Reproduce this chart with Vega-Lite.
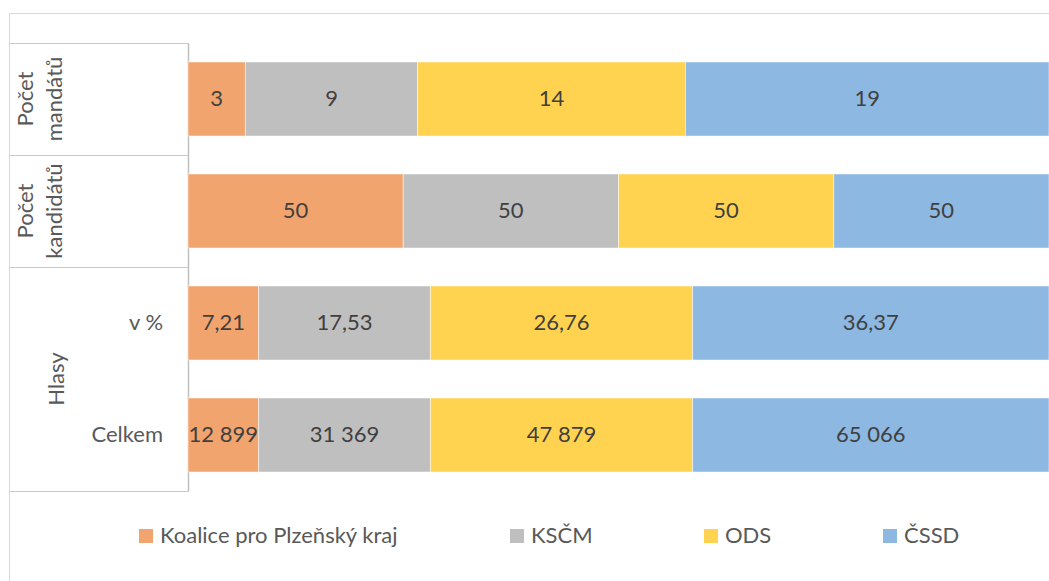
{
  "$schema": "https://vega.github.io/schema/vega-lite/v6.json",
  "width": 1040,
  "height": 568,
  "autosize": {"type": "none"},
  "padding": {"left": 9, "top": 13, "right": 0, "bottom": 0},
  "background": "white",
  "config": {
    "view": {"stroke": "#D9D9D9", "strokeWidth": 1},
    "font": "Lato",
    "locale": {"number": {"decimal": ",", "thousands": " ", "grouping": [3], "currency": ["", ""]}}
  },
  "datasets": {
    "bars": [
      {"row": "Počet mandátů", "party": "Koalice pro Plzeňský kraj", "k": 1, "value": 3},
      {"row": "Počet mandátů", "party": "KSČM", "k": 2, "value": 9},
      {"row": "Počet mandátů", "party": "ODS", "k": 3, "value": 14},
      {"row": "Počet mandátů", "party": "ČSSD", "k": 4, "value": 19},
      {"row": "Počet kandidátů", "party": "Koalice pro Plzeňský kraj", "k": 1, "value": 50},
      {"row": "Počet kandidátů", "party": "KSČM", "k": 2, "value": 50},
      {"row": "Počet kandidátů", "party": "ODS", "k": 3, "value": 50},
      {"row": "Počet kandidátů", "party": "ČSSD", "k": 4, "value": 50},
      {"row": "Hlasy v %", "party": "Koalice pro Plzeňský kraj", "k": 1, "value": 7.21},
      {"row": "Hlasy v %", "party": "KSČM", "k": 2, "value": 17.53},
      {"row": "Hlasy v %", "party": "ODS", "k": 3, "value": 26.76},
      {"row": "Hlasy v %", "party": "ČSSD", "k": 4, "value": 36.37},
      {"row": "Hlasy Celkem", "party": "Koalice pro Plzeňský kraj", "k": 1, "value": 12899},
      {"row": "Hlasy Celkem", "party": "KSČM", "k": 2, "value": 31369},
      {"row": "Hlasy Celkem", "party": "ODS", "k": 3, "value": 47879},
      {"row": "Hlasy Celkem", "party": "ČSSD", "k": 4, "value": 65066}
    ],
    "groups": [
      {"row": "Počet mandátů", "label": ["Počet", "mandátů"]},
      {"row": "Počet kandidátů", "label": ["Počet", "kandidátů"]}
    ],
    "hlasy": [
      {"row": "Hlasy v %", "label": "Hlasy"}
    ],
    "subs": [
      {"row": "Hlasy v %", "label": "v %"},
      {"row": "Hlasy Celkem", "label": "Celkem"}
    ]
  },
  "layer": [
    {
      "data": {"name": "bars"},
      "mark": {"type": "bar", "height": {"band": 0.661}, "stroke": "white", "strokeWidth": 0.5},
      "encoding": {
        "y": {
          "field": "row", "type": "nominal",
          "sort": ["Počet mandátů", "Počet kandidátů", "Hlasy v %", "Hlasy Celkem"],
          "scale": {"domain": ["Počet mandátů", "Počet kandidátů", "Hlasy v %", "Hlasy Celkem"], "range": [30, 478], "paddingInner": 0, "paddingOuter": 0},
          "axis": {
            "offset": -179, "title": null, "labels": false, "grid": false,
            "domainColor": "#BFBFBF", "domainWidth": 1.5,
            "tickColor": "#C8C8C8", "tickWidth": 1.2, "tickBand": "extent", "tickSize": 179,
            "tickOpacity": {"condition": {"test": "datum.value === 'Hlasy v %'", "value": 0}, "value": 1}
          }
        },
        "x": {
          "field": "value", "type": "quantitative", "stack": "normalize",
          "scale": {"domain": [-0.2079, 1], "nice": false, "zero": false},
          "axis": null
        },
        "color": {
          "field": "party", "type": "nominal",
          "scale": {"domain": ["Koalice pro Plzeňský kraj", "KSČM", "ODS", "ČSSD"], "range": ["#F2A46E", "#BFBFBF", "#FFD34F", "#8CB8E2"]},
          "legend": {
            "orient": "none", "legendX": 126, "legendY": 512, "direction": "horizontal",
            "title": null, "symbolType": "square", "symbolSize": 196, "symbolStrokeWidth": 0,
            "labelFontSize": 22, "labelColor": "#595959", "labelOffset": 3, "columnPadding": 107,
            "labelLimit": 0
          }
        },
        "order": {"field": "k", "type": "quantitative"}
      }
    },
    {
      "data": {"name": "bars"},
      "transform": [{"filter": "datum.row !== 'Hlasy v %'"}],
      "mark": {"type": "text", "fontSize": 22, "color": "#404040", "baseline": "middle"},
      "encoding": {
        "y": {"field": "row", "type": "nominal", "sort": ["Počet mandátů", "Počet kandidátů", "Hlasy v %", "Hlasy Celkem"]},
        "x": {"field": "value", "type": "quantitative", "stack": "normalize", "bandPosition": 0.5},
        "text": {"field": "value", "type": "quantitative", "format": ",d"},
        "order": {"field": "k", "type": "quantitative"}
      }
    },
    {
      "data": {"name": "bars"},
      "transform": [{"filter": "datum.row === 'Hlasy v %'"}],
      "mark": {"type": "text", "fontSize": 22, "color": "#404040", "baseline": "middle"},
      "encoding": {
        "y": {"field": "row", "type": "nominal", "sort": ["Počet mandátů", "Počet kandidátů", "Hlasy v %", "Hlasy Celkem"]},
        "x": {"field": "value", "type": "quantitative", "stack": "normalize", "bandPosition": 0.5},
        "text": {"field": "value", "type": "quantitative", "format": ".2f"},
        "order": {"field": "k", "type": "quantitative"}
      }
    },
    {
      "data": {"name": "groups"},
      "mark": {"type": "text", "fontSize": 22, "color": "#595959", "angle": 270, "align": "center", "baseline": "middle", "lineHeight": 29},
      "encoding": {
        "y": {"field": "row", "type": "nominal", "sort": ["Počet mandátů", "Počet kandidátů", "Hlasy v %", "Hlasy Celkem"]},
        "x": {"datum": -0.1882, "type": "quantitative"},
        "text": {"field": "label"}
      }
    },
    {
      "data": {"name": "hlasy"},
      "mark": {"type": "text", "fontSize": 22, "color": "#595959", "angle": 270, "align": "center", "baseline": "middle"},
      "encoding": {
        "y": {"field": "row", "type": "nominal", "sort": ["Počet mandátů", "Počet kandidátů", "Hlasy v %", "Hlasy Celkem"], "bandPosition": 1},
        "x": {"datum": -0.1521, "type": "quantitative"},
        "text": {"field": "label"}
      }
    },
    {
      "data": {"name": "subs"},
      "mark": {"type": "text", "fontSize": 22, "color": "#595959", "align": "right", "baseline": "middle"},
      "encoding": {
        "y": {"field": "row", "type": "nominal", "sort": ["Počet mandátů", "Počet kandidátů", "Hlasy v %", "Hlasy Celkem"]},
        "x": {"datum": -0.0290, "type": "quantitative"},
        "text": {"field": "label"}
      }
    }
  ]
}
